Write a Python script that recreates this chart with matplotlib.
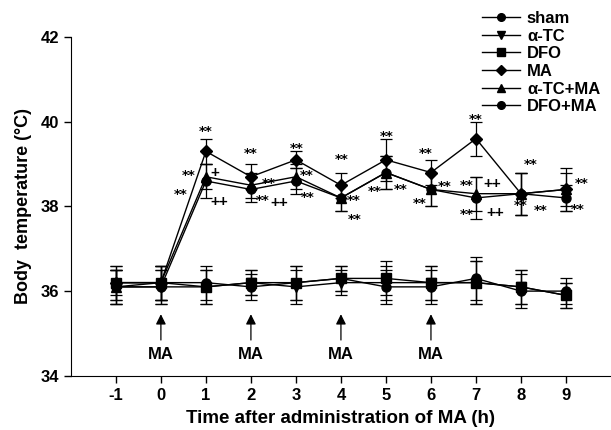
import matplotlib.pyplot as plt
from matplotlib.lines import Line2D

plt.rcParams['font.family'] = ['Liberation Sans', 'DejaVu Sans']
plt.rcParams['font.weight'] = 'bold'
plt.rcParams['axes.unicode_minus'] = False

hours = [-1, 0, 1, 2, 3, 4, 5, 6, 7, 8, 9]

sham = [36.2, 36.2, 36.2, 36.1, 36.2, 36.3, 36.1, 36.1, 36.3, 36.0, 36.0]
atc = [36.1, 36.1, 36.1, 36.2, 36.1, 36.2, 36.2, 36.2, 36.2, 36.1, 35.9]
dfo = [36.2, 36.2, 36.1, 36.2, 36.2, 36.3, 36.3, 36.2, 36.2, 36.1, 35.9]
ma = [36.2, 36.2, 39.3, 38.7, 39.1, 38.5, 39.1, 38.8, 39.6, 38.3, 38.4]
atc_ma = [36.1, 36.2, 38.7, 38.5, 38.7, 38.2, 38.8, 38.4, 38.3, 38.3, 38.4]
dfo_ma = [36.1, 36.1, 38.6, 38.4, 38.6, 38.2, 38.8, 38.4, 38.2, 38.3, 38.2]

sham_err = [0.4, 0.4, 0.4, 0.3, 0.4, 0.3, 0.4, 0.4, 0.5, 0.4, 0.3]
atc_err = [0.4, 0.4, 0.4, 0.3, 0.4, 0.3, 0.4, 0.4, 0.5, 0.4, 0.3]
dfo_err = [0.3, 0.4, 0.4, 0.3, 0.4, 0.3, 0.4, 0.4, 0.5, 0.4, 0.3]
ma_err = [0.4, 0.4, 0.3, 0.3, 0.2, 0.3, 0.5, 0.3, 0.4, 0.5, 0.5]
atc_ma_err = [0.4, 0.4, 0.3, 0.3, 0.3, 0.3, 0.4, 0.4, 0.4, 0.5, 0.4]
dfo_ma_err = [0.4, 0.4, 0.4, 0.3, 0.3, 0.3, 0.4, 0.4, 0.5, 0.5, 0.3]

series = [
    ('sham', sham, sham_err, 'o'),
    ('\u03b1-TC', atc, atc_err, 'v'),
    ('DFO', dfo, dfo_err, 's'),
    ('MA', ma, ma_err, 'D'),
    ('\u03b1-TC+MA', atc_ma, atc_ma_err, '^'),
    ('DFO+MA', dfo_ma, dfo_ma_err, 'o'),
]

# significance marks (text, x, y)
marks = [
    ('**', 1.0, 39.83), ('**', 0.62, 38.78), ('+', 1.2, 38.78),
    ('**', 0.45, 38.32), ('++', 1.3, 38.1),
    ('**', 2.0, 39.29), ('**', 2.39, 38.6), ('**', 2.26, 38.18), ('++', 2.62, 38.07),
    ('**', 3.01, 39.42), ('**', 3.24, 38.77), ('**', 3.27, 38.26),
    ('**', 4.02, 39.15), ('**', 4.28, 38.18), ('**', 4.3, 37.73),
    ('**', 5.01, 39.7), ('**', 4.76, 38.4), ('**', 5.33, 38.46),
    ('**', 5.88, 39.3), ('**', 5.75, 38.13), ('**', 6.31, 38.52),
    ('**', 7.0, 40.09), ('**', 6.79, 38.54), ('++', 7.37, 38.54),
    ('**', 6.79, 37.87), ('++', 7.42, 37.85),
    ('**', 8.22, 39.03), ('**', 8.0, 38.08), ('**', 8.43, 37.95),
    ('**', 9.34, 38.6), ('**', 9.27, 37.98),
]
ma_times = [0, 2, 4, 6]

fig = plt.figure(figsize=(6.11, 4.30), dpi=100)
ax = fig.add_axes([0.116, 0.126, 0.884, 0.788])

for name, vals, err, m in series:
    ax.errorbar(hours, vals, yerr=err, color='black', lw=1.0, marker=m,
                ms=6.5, capsize=4, elinewidth=0.9, capthick=0.9)

for t, xx, yy in marks:
    if '*' in t:
        ax.text(xx, yy - 0.05, t, ha='center', va='center', fontsize=9.5,
                family='DejaVu Sans', fontweight='bold')
    else:
        ax.text(xx, yy, t, ha='center', va='center', fontsize=11, fontweight='bold')

for t in ma_times:
    ax.annotate('', xy=(t, 35.52), xytext=(t, 34.78),
                arrowprops=dict(arrowstyle='-|>', color='black', lw=0.9,
                                mutation_scale=15))
    ax.text(t, 34.5, 'MA', ha='center', va='center', fontsize=12, fontweight='bold')

ax.set_xlim(-2, 10)
ax.set_ylim(34, 42)
ax.set_xticks(hours)
ax.set_yticks([34, 36, 38, 40, 42])
ax.tick_params(labelsize=12, width=1, length=5)
for lab in ax.get_xticklabels() + ax.get_yticklabels():
    lab.set_fontweight('bold')
ax.spines['top'].set_visible(False)
ax.spines['right'].set_visible(False)
ax.set_xlabel('Time after administration of MA (h)', fontsize=13.5, fontweight='bold', labelpad=5)
ax.set_ylabel('Body  temperature (\u00b0C)', fontsize=13, fontweight='bold', labelpad=6)

handles = [Line2D([], [], color='black', lw=1.0, marker=m, ms=5.5)
           for _, _, _, m in series]
labels = [s[0] for s in series]
fig.legend(handles, labels, loc='upper right', bbox_to_anchor=(1.0, 1.0),
           frameon=False, handlelength=2.3, labelspacing=0.16,
           handletextpad=0.4, borderaxespad=0.25,
           prop={'weight': 'bold', 'size': 12})

fig.savefig('out.png', dpi=100)
